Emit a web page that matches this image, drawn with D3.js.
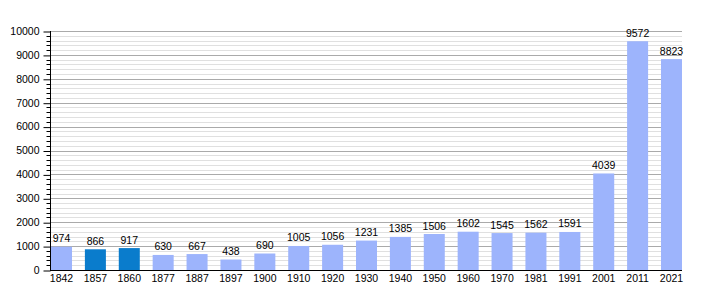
<!DOCTYPE html>
<html>
<head>
<meta charset="utf-8">
<script src="https://cdn.jsdelivr.net/npm/d3@7"></script>
<style>
  body { margin: 0; background: #fff; }
  text { font-family: "Liberation Sans", Arial, sans-serif; font-size: 10.5px; fill: #000; }
</style>
</head>
<body>
<div id="chart"></div>
<script>
// census years and population
var years = ["1842", "1857", "1860", "1877", "1887", "1897", "1900", "1910", "1920", "1930",
             "1940", "1950", "1960", "1970", "1981", "1991", "2001", "2011", "2021"];
var population = [974, 866, 917, 630, 667, 438, 690, 1005, 1056, 1231,
                  1385, 1506, 1602, 1545, 1562, 1591, 4039, 9572, 8823];
// years drawn in the darker colour
var highlighted = ["1857", "1860"];
var yTicks = [0, 1000, 2000, 3000, 4000, 5000, 6000, 7000, 8000, 9000, 10000];

var width = 710, height = 300;

var svg = d3.select("#chart")
  .append("svg")
    .attr("width", width)
    .attr("height", height);

var x = d3.scaleBand()
    .domain(years)
    .range([51, 682])
    .paddingInner(0.38)
    .paddingOuter(0);

var y = d3.scaleLinear()
    .domain([0, 10000])
    .range([270, 31]);

// minor and major gridlines
var minor = d3.range(0, 10001, 200).filter(function(d) { return d % 1000 != 0; });
svg.append("g").selectAll("line")
  .data(minor)
  .enter().append("line")
    .attr("x1", 50).attr("x2", 682)
    .attr("y1", function(d) { return Math.round(y(d)) + 0.5; })
    .attr("y2", function(d) { return Math.round(y(d)) + 0.5; })
    .style("stroke", "#e0e0e0");

svg.append("g").selectAll("line")
  .data(yTicks.slice(1))
  .enter().append("line")
    .attr("x1", 50).attr("x2", 682)
    .attr("y1", function(d) { return Math.round(y(d)) + 0.5; })
    .attr("y2", function(d) { return Math.round(y(d)) + 0.5; })
    .style("stroke", "#aaaaaa");

// bars
svg.append("g").selectAll("rect")
  .data(years)
  .enter().append("rect")
    .attr("x", function(d) { return x(d); })
    .attr("y", function(d, i) { return y(population[i]); })
    .attr("width", x.bandwidth())
    .attr("height", function(d, i) { return 270 - y(population[i]); })
    .style("fill", function(d) { return highlighted.indexOf(d) >= 0 ? "#0a7ccc" : "#9db4fc"; });

// value labels
svg.append("g").selectAll("text")
  .data(years)
  .enter().append("text")
    .attr("x", function(d) { return x(d) + x.bandwidth() / 2; })
    .attr("y", function(d, i) { return y(population[i]) - 4.5; })
    .attr("text-anchor", "middle")
    .text(function(d, i) { return population[i]; });

// y axis with minor ticks
var yAxis = svg.append("g")
    .attr("transform", "translate(50.5,0)")
    .call(d3.axisLeft(y).tickValues(yTicks).tickSize(7).tickPadding(4).tickFormat(d3.format("d")));
yAxis.append("g").selectAll("line")
  .data(minor)
  .enter().append("line")
    .attr("x1", -4).attr("x2", 0)
    .attr("y1", function(d) { return Math.round(y(d)) + 0.5; })
    .attr("y2", function(d) { return Math.round(y(d)) + 0.5; })
    .style("stroke", "#000");
yAxis.select(".domain").attr("d", "M0,31V270.5");
yAxis.selectAll(".tick line").attr("transform", "translate(0,0.5)");
yAxis.selectAll("text").style("font-size", "10.5px").style("font-family", "Liberation Sans, Arial, sans-serif");

// x axis
var xAxis = svg.append("g")
    .attr("transform", "translate(0,270.5)")
    .call(d3.axisBottom(x).tickSize(0).tickPadding(4));
xAxis.select(".domain").attr("d", "M50,0H682");
xAxis.selectAll("text").style("font-size", "10.5px").style("font-family", "Liberation Sans, Arial, sans-serif");
</script>
</body>
</html>
